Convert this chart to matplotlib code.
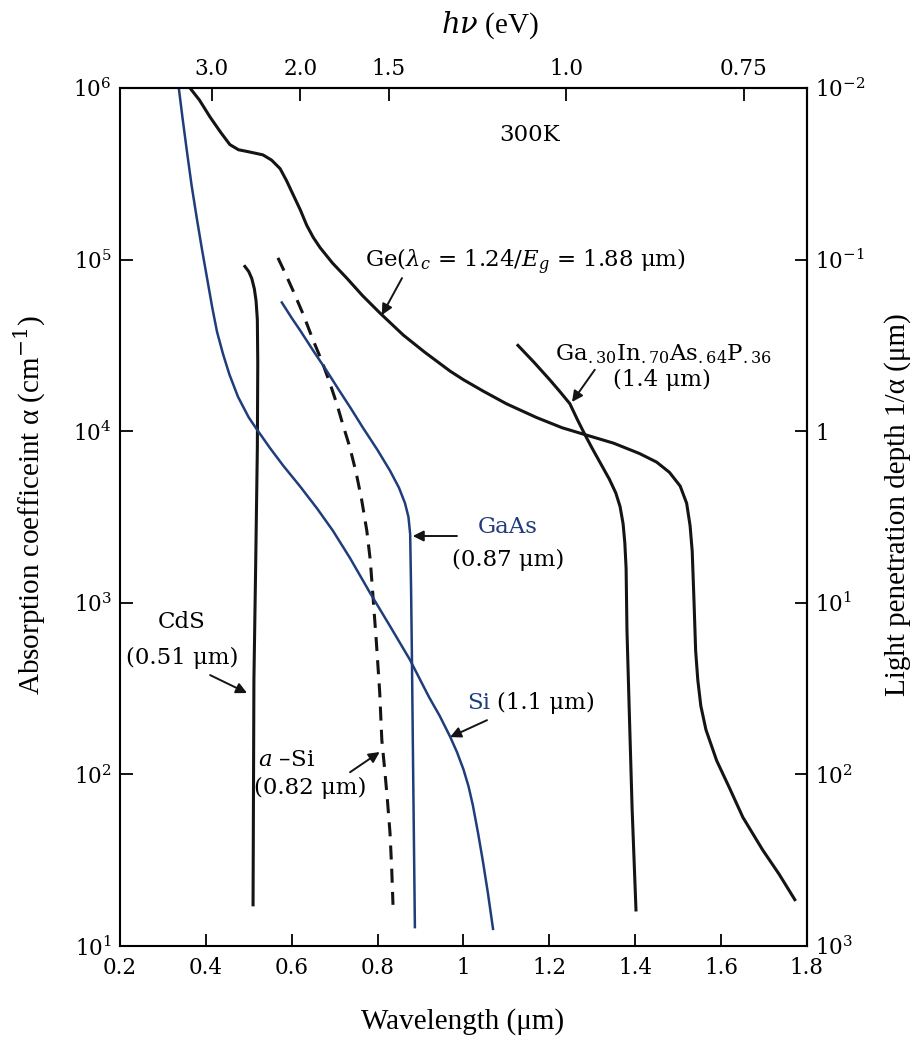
import numpy as np
import matplotlib
matplotlib.use("Agg")
import matplotlib.pyplot as plt
from matplotlib.ticker import FixedLocator, FixedFormatter, NullLocator

plt.rcParams["font.family"] = ["DejaVu Serif"]
plt.rcParams["mathtext.fontset"] = "dejavuserif"

# wavelength (um) / log10 alpha (cm^-1)
ge_lam = [0.363, 0.385, 0.410, 0.435, 0.456, 0.476, 0.496, 0.515, 0.533, 0.553, 0.573, 0.588,
          0.603, 0.620, 0.635, 0.650, 0.666, 0.695, 0.729, 0.765, 0.805, 0.860, 0.910, 0.969,
          1.000, 1.045, 1.100, 1.170, 1.230, 1.283, 1.350, 1.410, 1.450, 1.480, 1.505, 1.520,
          1.528, 1.533, 1.537, 1.541, 1.546, 1.553, 1.565, 1.590, 1.620, 1.651, 1.697, 1.735,
          1.772]
ge_log = [6.00, 5.93, 5.83, 5.74, 5.67, 5.64, 5.63, 5.62, 5.61, 5.58, 5.53, 5.46,
          5.38, 5.29, 5.20, 5.13, 5.07, 4.98, 4.89, 4.79, 4.69, 4.56, 4.46, 4.35,
          4.30, 4.235, 4.16, 4.08, 4.02, 3.98, 3.93, 3.87, 3.82, 3.76, 3.68, 3.58,
          3.45, 3.30, 3.02, 2.72, 2.55, 2.40, 2.26, 2.08, 1.92, 1.75, 1.56, 1.42,
          1.27]

gip_lam = [1.127, 1.165, 1.201, 1.225, 1.248, 1.265, 1.283, 1.300, 1.320, 1.340, 1.355,
           1.365, 1.372, 1.376, 1.379, 1.381, 1.386, 1.393, 1.402]
gip_log = [4.50, 4.40, 4.30, 4.23, 4.16, 4.07, 3.98, 3.90, 3.81, 3.72, 3.64,
           3.56, 3.46, 3.35, 3.20, 2.84, 2.40, 1.80, 1.21]

cds_lam = [0.491, 0.500, 0.507, 0.513, 0.517, 0.520, 0.521, 0.520, 0.516, 0.512, 0.510]
cds_log = [4.96, 4.93, 4.89, 4.83, 4.76, 4.65, 4.40, 3.90, 3.20, 2.55, 1.24]

si_lam = [0.337, 0.346, 0.356, 0.367, 0.379, 0.391, 0.403, 0.415, 0.426, 0.440, 0.455,
          0.475, 0.500, 0.519, 0.550, 0.580, 0.619, 0.659, 0.696, 0.736, 0.782, 0.830,
          0.875, 0.920, 0.945, 0.969, 0.985, 1.000, 1.012, 1.022, 1.034, 1.045, 1.057,
          1.069]
si_log = [6.00, 5.82, 5.63, 5.43, 5.24, 5.06, 4.89, 4.72, 4.58, 4.45, 4.33,
          4.20, 4.08, 4.01, 3.90, 3.80, 3.68, 3.55, 3.42, 3.26, 3.06, 2.86,
          2.67, 2.45, 2.34, 2.22, 2.13, 2.03, 1.93, 1.82, 1.66, 1.50, 1.31,
          1.10]

gaas_lam = [0.577, 0.600, 0.619, 0.650, 0.682, 0.710, 0.736, 0.766, 0.800, 0.829, 0.850,
            0.864, 0.872, 0.876, 0.878, 0.880, 0.883, 0.887]
gaas_log = [4.75, 4.66, 4.59, 4.47, 4.35, 4.24, 4.14, 4.02, 3.89, 3.77, 3.67,
            3.58, 3.50, 3.40, 3.10, 2.70, 2.00, 1.11]

asi_lam = [0.568, 0.585, 0.603, 0.627, 0.650, 0.670, 0.689, 0.705, 0.719, 0.735, 0.750,
           0.763, 0.775, 0.783, 0.789, 0.797, 0.805, 0.810, 0.817, 0.823, 0.829, 0.833, 0.836]
asi_log = [5.01, 4.92, 4.82, 4.68, 4.53, 4.41, 4.28, 4.16, 4.04, 3.91, 3.76,
           3.60, 3.42, 3.25, 3.05, 2.78, 2.48, 2.20, 2.02, 1.85, 1.66, 1.45, 1.24]

x_ticks = [0.2, 0.4, 0.6, 0.8, 1.0, 1.2, 1.4, 1.6, 1.8]
x_ticklabels = ["0.2", "0.4", "0.6", "0.8", "1", "1.2", "1.4", "1.6", "1.8"]
y_ticks = [1e1, 1e2, 1e3, 1e4, 1e5, 1e6]
y_ticklabels = [r"$10^{1}$", r"$10^{2}$", r"$10^{3}$", r"$10^{4}$", r"$10^{5}$", r"$10^{6}$"]
ev_ticks = [3.0, 2.0, 1.5, 1.0, 0.75]
ev_ticklabels = ["3.0", "2.0", "1.5", "1.0", "0.75"]
depth_ticks = [1e-2, 1e-1, 1, 1e1, 1e2, 1e3]
depth_ticklabels = [r"$10^{-2}$", r"$10^{-1}$", "1", r"$10^{1}$", r"$10^{2}$", r"$10^{3}$"]

BLACK = "#141414"
BLUE = "#1f3d7a"
LABEL_FONT = ["Liberation Serif", "DejaVu Serif"]


def ev_of(x):
    x = np.asarray(x, dtype=float)
    with np.errstate(divide="ignore"):
        return 1.24 / x


def depth_of(a):
    a = np.asarray(a, dtype=float)
    with np.errstate(divide="ignore"):
        return 1e4 / a


fig = plt.figure(figsize=(9.2, 10.51), dpi=100)
ax = fig.add_axes([0.1304, 0.0999, 0.7466, 0.8164])
ax.set_yscale("log")
ax.set_xlim(0.2, 1.8)
ax.set_ylim(10, 1e6)

ax.plot(ge_lam, 10 ** np.array(ge_log), color=BLACK, lw=2.2)
ax.plot(gip_lam, 10 ** np.array(gip_log), color=BLACK, lw=2.2)
ax.plot(cds_lam, 10 ** np.array(cds_log), color=BLACK, lw=2.2)
ax.plot(asi_lam, 10 ** np.array(asi_log), color=BLACK, lw=2.2, ls=(0, (4.6, 3.0)))
ax.plot(si_lam, 10 ** np.array(si_log), color=BLUE, lw=1.8)
ax.plot(gaas_lam, 10 ** np.array(gaas_log), color=BLUE, lw=1.8)

ax.xaxis.set_major_locator(FixedLocator(x_ticks))
ax.xaxis.set_major_formatter(FixedFormatter(x_ticklabels))
ax.yaxis.set_major_locator(FixedLocator(y_ticks))
ax.yaxis.set_major_formatter(FixedFormatter(y_ticklabels))
ax.yaxis.set_minor_locator(NullLocator())
ax.tick_params(axis="both", direction="in", length=9, width=1.3, labelsize=15.5)
ax.tick_params(axis="x", pad=8)
ax.tick_params(axis="y", pad=6)
ax.tick_params(top=False, right=False)
for sp in ax.spines.values():
    sp.set_linewidth(1.5)

top = ax.secondary_xaxis("top", functions=(ev_of, ev_of))
top.xaxis.set_major_locator(FixedLocator(ev_ticks))
top.xaxis.set_major_formatter(FixedFormatter(ev_ticklabels))
top.xaxis.set_minor_locator(NullLocator())
top.tick_params(direction="in", length=9, width=1.3, labelsize=15.5, pad=6)
top.spines["top"].set_linewidth(1.5)

right = ax.secondary_yaxis("right", functions=(depth_of, depth_of))
right.yaxis.set_major_locator(FixedLocator(depth_ticks))
right.yaxis.set_major_formatter(FixedFormatter(depth_ticklabels))
right.yaxis.set_minor_locator(NullLocator())
right.tick_params(direction="in", length=9, width=1.3, labelsize=15.5, pad=6)
right.spines["right"].set_linewidth(1.5)

# axis titles
fig.text(463 / 920, 1 - 1022 / 1051, "Wavelength (μm)", family=LABEL_FONT, fontsize=21,
         ha="center", va="center")
fig.text(490 / 920, 1 - 25 / 1051, r"$h\nu$ (eV)", family=LABEL_FONT, fontsize=21,
         ha="center", va="center")
fig.text(30 / 920, 1 - 505 / 1051, r"Absorption coefficeint α (cm$^{-1}$)", family=LABEL_FONT,
         fontsize=21, rotation=90, ha="center", va="center")
fig.text(898 / 920, 1 - 505 / 1051, "Light penetration depth 1/α (μm)", family=LABEL_FONT,
         fontsize=21, rotation=90, ha="center", va="center")

# curve labels
fs = 16.5
arrow = dict(arrowstyle="-|>", color=BLACK, lw=1.4, mutation_scale=16, shrinkA=0, shrinkB=0)
ax.text(1.155, 5.3e5, "300K", fontsize=fs, ha="center", va="center")

ax.text(0.771, 9.7e4, r"Ge($\lambda_c$ = 1.24/$E_g$ = 1.88 μm)", fontsize=fs, ha="left", va="center")
ax.annotate("", xy=(0.810, 4.75e4), xytext=(0.857, 7.8e4), arrowprops=arrow)

ax.text(1.213, 2.6e4, r"Ga$_{.30}$In$_{.70}$As$_{.64}$P$_{.36}$", fontsize=fs, ha="left", va="baseline")
ax.text(1.462, 2.0e4, "(1.4 μm)", fontsize=fs, ha="center", va="center")
ax.annotate("", xy=(1.253, 1.48e4), xytext=(1.306, 2.28e4), arrowprops=arrow)

ax.text(1.104, 2.77e3, "GaAs", fontsize=fs, color=BLUE, ha="center", va="center")
ax.text(1.104, 1.78e3, "(0.87 μm)", fontsize=fs, ha="center", va="center")
ax.annotate("", xy=(0.882, 2.45e3), xytext=(0.985, 2.45e3), arrowprops=arrow)

ax.text(0.344, 773, "CdS", fontsize=fs, ha="center", va="center")
ax.text(0.344, 476, "(0.51 μm)", fontsize=fs, ha="center", va="center")
ax.annotate("", xy=(0.496, 298), xytext=(0.410, 379), arrowprops=arrow)

ax.text(1.008, 261, "Si", fontsize=fs, color=BLUE, ha="left", va="center")
ax.text(1.078, 261, "(1.1 μm)", fontsize=fs, ha="left", va="center")
ax.annotate("", xy=(0.969, 165), xytext=(1.055, 207), arrowprops=arrow)

ax.text(0.521, 121, r"$a$ –Si", fontsize=fs, ha="left", va="center")
ax.text(0.642, 83, "(0.82 μm)", fontsize=fs, ha="center", va="center")
ax.annotate("", xy=(0.805, 135), xytext=(0.736, 103), arrowprops=arrow)

fig.savefig("out.png", dpi=100)
